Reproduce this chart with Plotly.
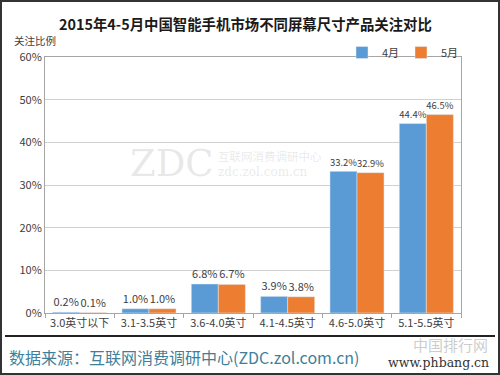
import plotly.graph_objects as go

categories = ["3.0英寸以下", "3.1-3.5英寸", "3.6-4.0英寸", "4.1-4.5英寸", "4.6-5.0英寸", "5.1-5.5英寸"]
april = [0.2, 1.0, 6.8, 3.9, 33.2, 44.4]
may = [0.1, 1.0, 6.7, 3.8, 32.9, 46.5]
series_names = ["4月", "5月"]
y_ticks = [0, 10, 20, 30, 40, 50, 60]
y_tick_text = ["0%", "10%", "20%", "30%", "40%", "50%", "60%"]

W, H = 500, 375
L, R, T, B = 45, 39, 57, 62
PW, PH = W - L - R, H - T - B

def px(x):
    return (x - L) / PW

def py(y):
    return (H - B - y) / PH

FONT = "Noto Sans CJK SC, Noto Sans, sans-serif"

fig = go.Figure()
fig.add_trace(go.Bar(x=categories, y=april, name=series_names[0], marker_color="#5B9BD5",
                     texttemplate="%{y:.1f}%", textposition="outside", cliponaxis=False,
                     textfont=dict(size=11, color="#404040")))
fig.add_trace(go.Bar(x=categories, y=may, name=series_names[1], marker_color="#ED7D31",
                     texttemplate="%{y:.1f}%", textposition="outside", cliponaxis=False,
                     textfont=dict(size=11, color="#404040")))

WM = "rgba(175,175,175,0.28)"

def ann(text, x, y, size, color, family=FONT, xanchor="center", pad=1):
    return dict(text=text, x=px(x), y=py(y), xref="paper", yref="paper", xanchor=xanchor,
                yanchor="middle", showarrow=False, borderpad=pad,
                font=dict(size=size, color=color, family=family))

annotations = [
    ann("<b>2015年4-5月中国智能手机市场不同屏幕尺寸产品关注对比</b>", 245, 23, 14.4, "#1a1a1a"),
    ann("关注比例", 13, 40, 10.5, "#404040", xanchor="left", pad=0),
    ann("数据来源：互联网消费调研中心(ZDC.zol.com.cn)", 7, 357, 16, "#3f7f99", xanchor="left"),
    # watermarks
    ann("ZDC", 172, 163, 37, WM, family="DejaVu Serif"),
    ann("互联网消费调研中心", 216, 156, 11.5, WM, xanchor="left"),
    ann("zdc.zol.com.cn", 216, 172, 12, WM, family="DejaVu Serif", xanchor="left"),
    ann("中国排行网", 490, 344, 15, "rgba(170,170,170,0.6)", xanchor="right"),
    ann("www.phbang.cn", 491, 362, 12.5, "#333333", family="DejaVu Serif", xanchor="right"),
]

shapes = [
    dict(type="line", xref="paper", yref="paper", x0=px(5), x1=px(495), y0=py(336), y1=py(336),
         line=dict(color="#222222", width=2)),
    dict(type="rect", xref="paper", yref="paper", x0=px(1), x1=px(499), y0=py(1), y1=py(374),
         line=dict(color="#333333", width=2)),
]

fig.update_layout(
    width=W, height=H,
    margin=dict(l=L, r=R, t=T, b=B, autoexpand=False),
    paper_bgcolor="white", plot_bgcolor="white",
    font=dict(family=FONT, size=11, color="#404040"),
    barmode="group", bargap=0.22, bargroupgap=0,
    showlegend=True,
    legend=dict(orientation="h", x=px(342), y=py(38), xanchor="left", yanchor="top",
                font=dict(size=11, color="#404040"), bgcolor="rgba(0,0,0,0)",
                entrywidth=14, entrywidthmode="pixels", traceorder="normal",
                itemwidth=30),
    annotations=annotations,
    shapes=shapes,
)
fig.update_xaxes(showline=True, linecolor="#a6a6a6", mirror=True, ticks="outside", tickson="boundaries",
                 ticklen=4, tickcolor="#a6a6a6", tickfont=dict(size=11, color="#404040"), automargin=False)
fig.update_yaxes(range=[0, 60], tickmode="array", tickvals=y_ticks, ticktext=y_tick_text,
                 showgrid=True, gridcolor="#d0d0d0",
                 showline=True, linecolor="#a6a6a6", mirror=True, zeroline=False,
                 tickfont=dict(size=11, color="#404040"), automargin=False)

fig.write_html("out.html", config={"displayModeBar": False},
               post_script="document.body.style.margin='0';")
